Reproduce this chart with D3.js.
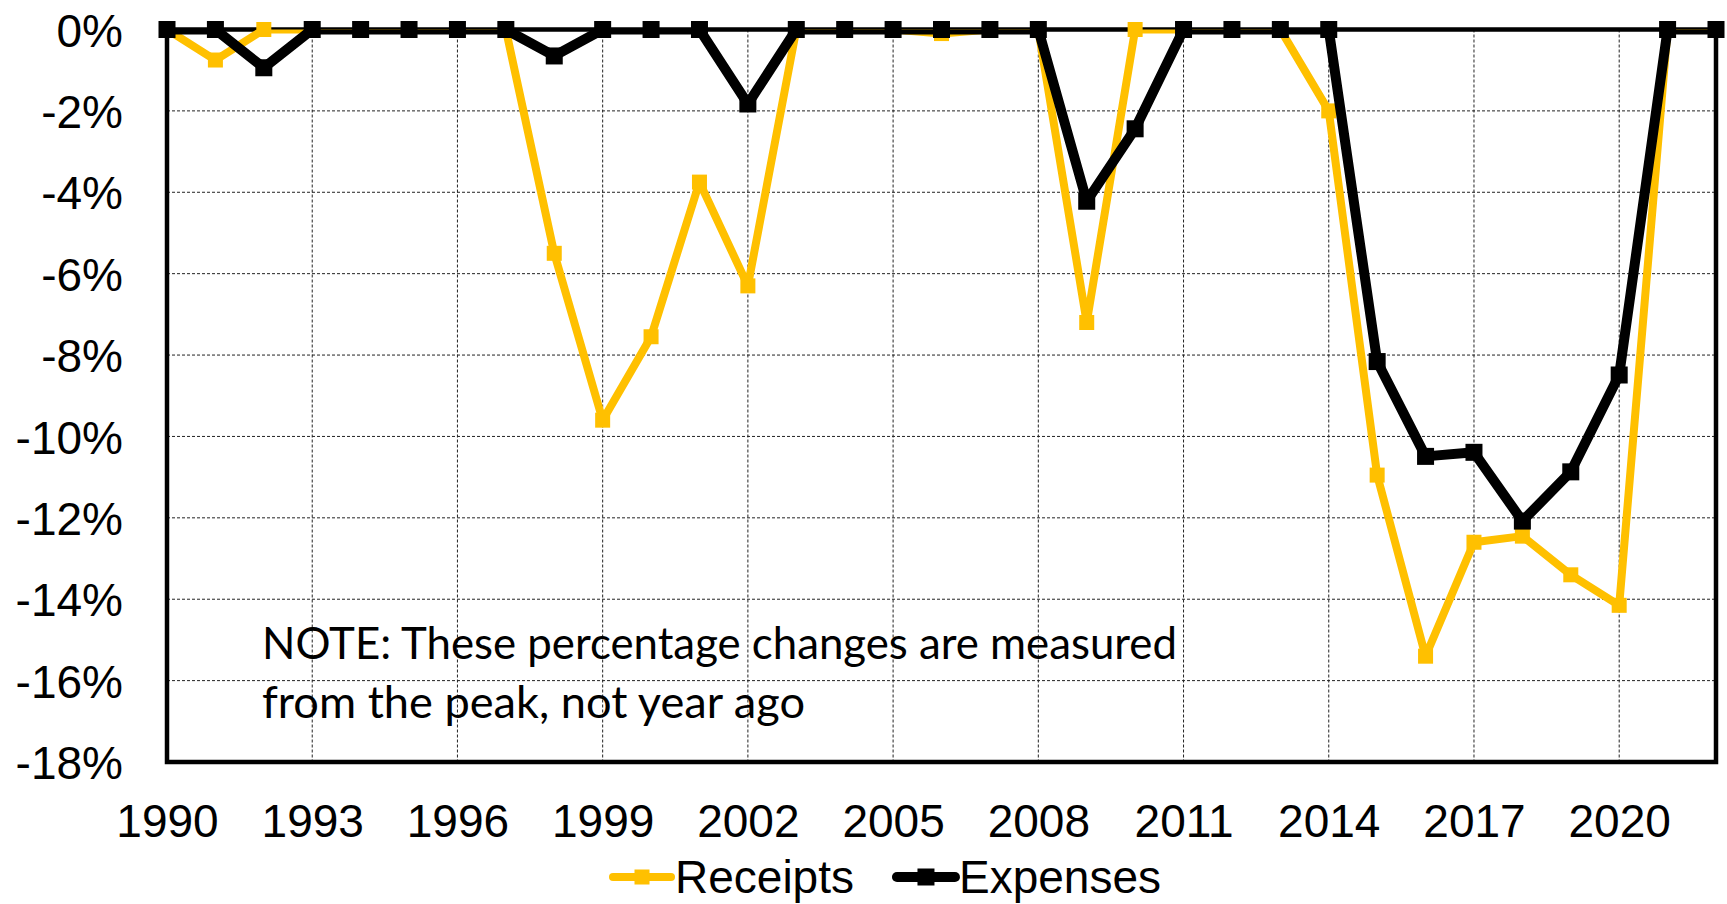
<!DOCTYPE html>
<html>
<head>
<meta charset="utf-8">
<script src="https://cdn.jsdelivr.net/npm/d3@7"></script>
<style>
    html, body { margin: 0; padding: 0; background: #fff; }
    svg { display: block; }
    .axis text { font-family: "Liberation Sans", Arial, sans-serif; font-size: 46px; fill: #000; }
    .legend-label { font-family: "Liberation Sans", Arial, sans-serif; font-size: 46px; fill: #000; }
    .note { font-family: Lato, "Open Sans", sans-serif; font-size: 44px; fill: #000; }
</style>
</head>
<body>
<div id="chart"></div>
<script>
// --- Data (percent change from the peak) ---
const years = [
    1990, 1991, 1992, 1993, 1994, 1995, 1996, 1997, 1998, 1999, 2000, 2001, 2002, 2003, 2004, 2005, 2006,
    2007, 2008, 2009, 2010, 2011, 2012, 2013, 2014, 2015, 2016, 2017, 2018, 2019, 2020, 2021, 2022,
]
const receipts = [
    0, -0.75, 0, 0, 0, 0, 0, 0, -5.5, -9.6, -7.55, -3.75, -6.3, 0, 0, 0, -0.1,
    0, 0, -7.2, 0, 0, 0, 0, -2.0, -10.95, -15.4, -12.6, -12.45, -13.4, -14.15, 0, 0,
]
const expenses = [
    0, 0, -0.94, 0, 0, 0, 0, 0, -0.65, 0, 0, 0, -1.83, 0, 0, 0, 0,
    0, 0, -4.22, -2.44, 0, 0, 0, 0, -8.16, -10.49, -10.39, -12.08, -10.87, -8.49, 0, 0,
]
const xTicks = [1990, 1993, 1996, 1999, 2002, 2005, 2008, 2011, 2014, 2017, 2020]
const yTicks = [0, -2, -4, -6, -8, -10, -12, -14, -16, -18]
const noteLines = ["NOTE: These percentage changes are measured", "from the peak, not year ago"]

const series = [
    { name: "Receipts", values: receipts, color: "#FFC000", lineWidth: 8, marker: 15 },
    { name: "Expenses", values: expenses, color: "#000000", lineWidth: 10, marker: 17 },
]

const width = 1727
const height = 904
const plot = { left: 167, right: 1716, top: 29.5, bottom: 762 }

const x = d3.scaleLinear().domain([1990, 2022]).range([plot.left, plot.right])
const y = d3.scaleLinear().domain([-18, 0]).range([plot.bottom, plot.top])

const svg = d3.select("#chart").append("svg").attr("width", width).attr("height", height).attr("viewBox", `0 0 ${width} ${height}`)

svg.append("defs")
    .append("clipPath")
    .attr("id", "plot-clip")
    .append("rect")
    .attr("x", plot.left)
    .attr("y", plot.top)
    .attr("width", plot.right - plot.left)
    .attr("height", plot.bottom - plot.top)

// --- Grid ---
const grid = svg.append("g").attr("class", "grid").attr("stroke", "#222").attr("stroke-width", 1).attr("stroke-dasharray", "3,2")

grid.selectAll(".vgrid")
    .data(xTicks.filter((t) => t !== 1990))
    .enter()
    .append("line")
    .attr("x1", (d) => x(d))
    .attr("x2", (d) => x(d))
    .attr("y1", plot.top)
    .attr("y2", plot.bottom)

grid.selectAll(".hgrid")
    .data(yTicks.filter((t) => t !== 0 && t !== -18))
    .enter()
    .append("line")
    .attr("x1", plot.left)
    .attr("x2", plot.right)
    .attr("y1", (d) => y(d))
    .attr("y2", (d) => y(d))

// --- Axes (labels only, the frame is drawn separately) ---
const xAxis = svg
    .append("g")
    .attr("class", "axis")
    .attr("transform", `translate(0,${plot.bottom})`)
    .call(d3.axisBottom(x).tickValues(xTicks).tickSize(0).tickPadding(42).tickFormat(d3.format("d")))
xAxis.select(".domain").remove()

const yAxis = svg
    .append("g")
    .attr("class", "axis")
    .attr("transform", `translate(${plot.left},0)`)
    .call(d3.axisLeft(y).tickValues(yTicks).tickSize(0).tickPadding(44).tickFormat((d) => `${d}%`))
yAxis.select(".domain").remove()
yAxis.selectAll("text").attr("dy", "0.36em")

// --- Plot frame ---
svg.append("rect")
    .attr("x", plot.left)
    .attr("y", plot.top)
    .attr("width", plot.right - plot.left)
    .attr("height", plot.bottom - plot.top)
    .attr("fill", "none")
    .attr("stroke", "#000")
    .attr("stroke-width", 4.5)

// --- Series ---
const line = d3
    .line()
    .x((d) => x(d.year))
    .y((d) => y(d.value))

series.forEach((s) => {
    const points = years.map((year, i) => ({ year, value: s.values[i] }))

    svg.append("path")
        .datum(points)
        .attr("clip-path", "url(#plot-clip)")
        .attr("fill", "none")
        .attr("stroke", s.color)
        .attr("stroke-width", s.lineWidth)
        .attr("stroke-linejoin", "round")
        .attr("stroke-linecap", "round")
        .attr("d", line)

    svg.append("g")
        .selectAll("rect")
        .data(points)
        .enter()
        .append("rect")
        .attr("x", (d) => x(d.year) - s.marker / 2)
        .attr("y", (d) => y(d.value) - s.marker / 2)
        .attr("width", s.marker)
        .attr("height", s.marker)
        .attr("fill", s.color)
})

// --- Note ---
const noteWidths = [915, 543]
svg.selectAll(".note")
    .data(noteLines)
    .enter()
    .append("text")
    .attr("class", "note")
    .attr("x", 262)
    .attr("y", (d, i) => 659 + i * 59)
    .attr("textLength", (d, i) => noteWidths[i])
    .attr("lengthAdjust", "spacingAndGlyphs")
    .text((d) => d)

// --- Legend ---
const legend = svg.append("g").attr("class", "legend")
let legendX = 613
const legendY = 877
series.forEach((s) => {
    const item = legend.append("g").attr("transform", `translate(${legendX},${legendY})`)
    item.append("line")
        .attr("x1", 0)
        .attr("x2", 58)
        .attr("stroke", s.color)
        .attr("stroke-width", s.lineWidth)
        .attr("stroke-linecap", "round")
    item.append("rect")
        .attr("x", 29 - s.marker / 2)
        .attr("y", -s.marker / 2)
        .attr("width", s.marker)
        .attr("height", s.marker)
        .attr("fill", s.color)
    const label = item.append("text").attr("class", "legend-label").attr("x", 62).attr("y", 16).text(s.name)
    legendX += 62 + label.node().getComputedTextLength() + 43
})
</script>
</body>
</html>
